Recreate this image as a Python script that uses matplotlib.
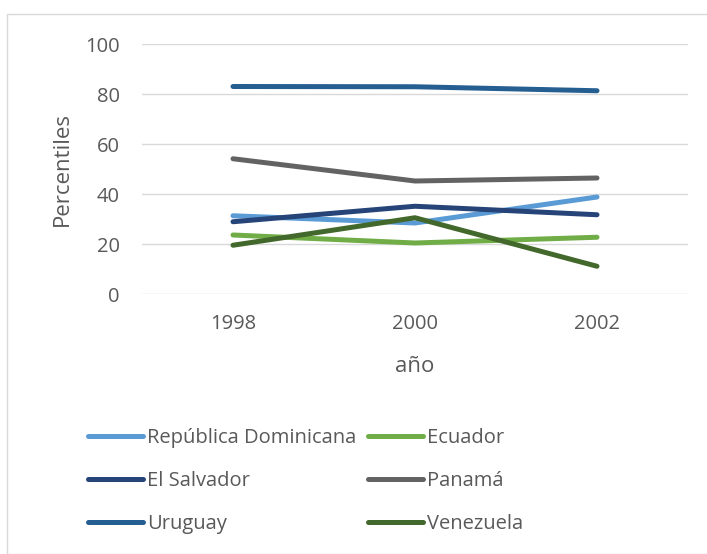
import matplotlib.pyplot as plt
from matplotlib.patches import Rectangle

years = ["1998", "2000", "2002"]
countries = ["República Dominicana", "Ecuador", "El Salvador", "Panamá", "Uruguay", "Venezuela"]
rep_dominicana = [31.3, 28.4, 38.8]
ecuador = [23.6, 20.4, 22.7]
el_salvador = [28.9, 35.1, 31.7]
panama = [54.1, 45.2, 46.4]
uruguay = [83.0, 82.9, 81.3]
venezuela = [19.5, 30.5, 11.1]
colors = ["#5B9BD5", "#70AD47", "#264478", "#636363", "#255E91", "#43682B"]

series = [rep_dominicana, ecuador, el_salvador, panama, uruguay, venezuela]
text_color = "#595959"
plt.rcParams["font.family"] = ["Open Sans", "DejaVu Sans"]

fig = plt.figure(figsize=(7.07, 5.54), dpi=100)
fig.patches.append(Rectangle((7 / 707, 0), 1, 1 - 14 / 554, transform=fig.transFigure,
                             fill=False, edgecolor="#D9D9D9", linewidth=1))

ax = fig.add_axes([142 / 707, 1 - 294 / 554, 546 / 707, 250 / 554])
x = list(range(len(years)))
handles = []
for name, vals, c in zip(countries, series, colors):
    h, = ax.plot(x, vals, color=c, linewidth=3.6, solid_capstyle="round", label=name)
    handles.append(h)

ax.set_xlim(-0.5, 2.5)
ax.set_ylim(0, 100)
ax.set_yticks(range(0, 101, 20))
ax.set_xticks(x)
ax.set_xticklabels(years)
ax.grid(axis="y", color="#D9D9D9", linewidth=1)
ax.set_axisbelow(True)
for s in ax.spines.values():
    s.set_visible(False)
ax.tick_params(length=0, labelsize=14.5, labelcolor=text_color)
ax.tick_params(axis="y", pad=16)
ax.tick_params(axis="x", pad=14.5)
ax.set_ylabel("Percentiles", fontsize=16, color=text_color, labelpad=9)
ax.set_xlabel("año", fontsize=16, color=text_color, labelpad=16)

# reorder so the 2-column legend reads row by row
order = [0, 2, 4, 1, 3, 5]
fig.legend([handles[i] for i in order], [countries[i] for i in order],
           loc="upper left", bbox_to_anchor=(78 / 707, 1 - 418 / 554), ncol=2,
           frameon=False, fontsize=14.5, labelcolor=text_color, borderpad=0,
           handlelength=2.75, handletextpad=0.2, labelspacing=1.15, columnspacing=0.55)

fig.savefig("out.png", dpi=100)
